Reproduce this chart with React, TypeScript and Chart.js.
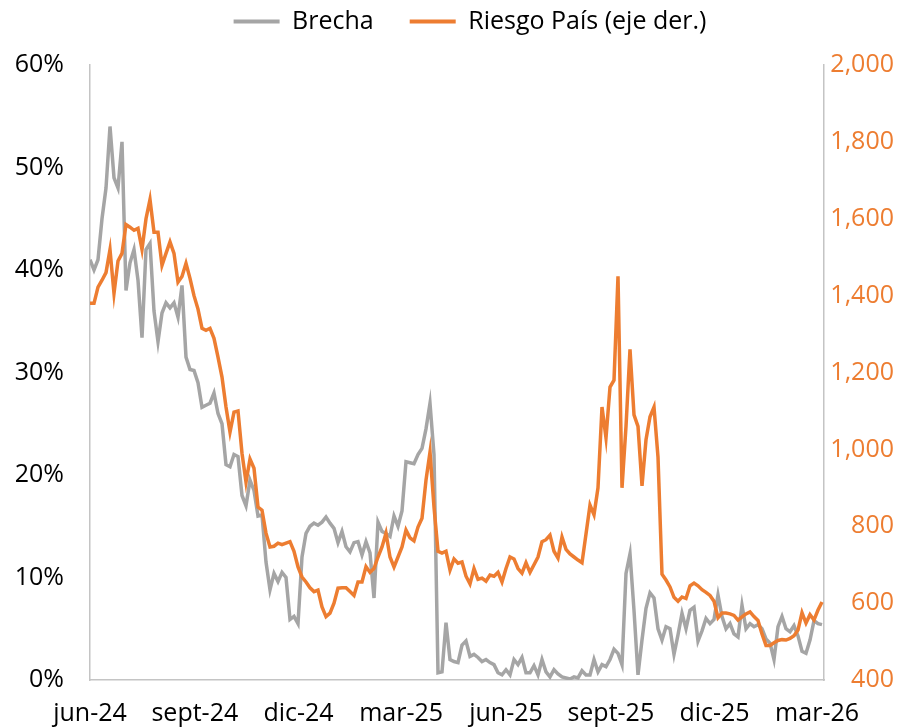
import { useEffect, useRef } from "react";
import { Chart, registerables } from "chart.js";

Chart.register(...registerables);

// ---- Data ----
// One point every DAYS_PER_POINT days starting at START_DATE
const START_DATE = "2024-06-01";
const DAYS_PER_POINT = 3.51;
const X_MAX = 183.5;

const TICK_DATES = [
  "2024-06-01", "2024-09-01", "2024-12-01", "2025-03-01",
  "2025-06-01", "2025-09-01", "2025-12-01", "2026-03-01",
];
const TICK_LABELS = ["jun-24", "sept-24", "dic-24", "mar-25", "jun-25", "sept-25", "dic-25", "mar-26"];

const SERIES_NAMES = ["Brecha", "Riesgo País (eje der.)"];

// Brecha (%), left axis
const BRECHA = [
  41.0, 40.0, 41.0, 45.0, 48.0, 54.0, 49.0, 48.0, 52.5, 38.0,
  40.7, 42.0, 39.0, 33.4, 42.0, 42.6, 36.0, 33.0, 35.8, 36.8,
  36.3, 36.8, 35.4, 38.5, 31.5, 30.3, 30.2, 29.0, 26.6, 26.8,
  27.0, 28.0, 26.0, 25.0, 21.0, 20.8, 22.0, 21.8, 18.0, 17.0,
  19.5, 18.5, 16.0, 16.1, 11.5, 8.8, 10.4, 9.6, 10.5, 10.0,
  5.9, 6.2, 5.5, 12.0, 14.3, 15.0, 15.3, 15.1, 15.4, 15.9,
  15.3, 14.8, 13.4, 14.5, 13.0, 12.5, 13.4, 13.5, 12.2, 13.5,
  12.4, 8.0, 15.4, 14.5, 14.3, 14.0, 16.0, 15.0, 16.5, 21.3,
  21.2, 21.1, 22.0, 22.6, 24.5, 27.0, 22.0, 0.7, 0.8, 5.6,
  2.0, 1.8, 1.7, 3.4, 3.8, 2.3, 2.5, 2.2, 1.8, 2.0,
  1.7, 1.5, 0.7, 0.5, 1.0, 0.5, 2.0, 1.5, 2.2, 0.7,
  0.7, 1.4, 0.5, 2.0, 0.8, 0.3, 1.0, 0.6, 0.3, 0.2,
  0.1, 0.3, 0.2, 0.9, 0.5, 0.5, 2.0, 0.8, 1.5, 1.3,
  2.0, 3.0, 2.6, 1.5, 10.4, 12.3, 6.8, 0.5, 3.9, 7.0,
  8.5, 8.0, 5.0, 3.9, 5.2, 5.0, 2.5, 4.4, 6.5, 5.0,
  6.8, 7.1, 3.8, 4.8, 6.0, 5.5, 5.9, 8.3, 6.2, 5.0,
  5.5, 4.5, 4.2, 7.3, 5.0, 5.5, 5.2, 5.4, 5.0, 4.0,
  3.6, 2.0, 5.2, 6.2, 5.0, 4.7, 5.3, 4.3, 2.8, 2.6,
  3.9, 5.8, 5.5, 5.4,
];

// Riesgo País (bps), right axis
const RIESGO = [
  1380, 1380, 1422, 1440, 1460, 1520, 1406, 1490, 1510, 1585,
  1578, 1570, 1575, 1520, 1600, 1650, 1565, 1565, 1479, 1510,
  1540, 1510, 1435, 1450, 1484, 1445, 1400, 1365, 1315, 1310,
  1315, 1289, 1240, 1188, 1110, 1045, 1097, 1100, 990, 915,
  975, 951, 850, 842, 782, 746, 748, 756, 752, 756,
  760, 735, 694, 668, 655, 640, 630, 634, 590, 565,
  574, 600, 639, 640, 640, 630, 620, 655, 655, 695,
  680, 690, 720, 746, 782, 720, 694, 720, 746, 790,
  770, 762, 798, 821, 920, 993, 850, 735, 730, 735,
  686, 715, 704, 707, 670, 650, 690, 662, 665, 657,
  673, 670, 680, 655, 690, 720, 715, 690, 678, 705,
  680, 700, 720, 760, 765, 777, 735, 717, 772, 740,
  728, 720, 712, 705, 780, 855, 830, 900, 1110, 1030,
  1162, 1180, 1450, 900, 1060, 1260, 1090, 1060, 905, 1025,
  1085, 1110, 980, 675, 660, 642, 615, 605, 616, 612,
  645, 652, 645, 635, 628, 620, 605, 562, 574, 574,
  572, 568, 556, 564, 572, 577, 565, 555, 520, 490,
  490, 497, 503, 505, 504, 508, 515, 530, 575, 548,
  570, 556, 582, 603,
];

const LEFT_TICK_STEP = 10;
const RIGHT_TICK_STEP = 200;

const GRAY = "#A5A5A5";
const ORANGE = "#ED7D31";
const AXIS_COLOR = "#C4C4C4";
const FONT = "'Open Sans', 'Liberation Sans', Arial, sans-serif";
const FONT_SIZE = 25;

export default function App() {
  const ref = useRef<HTMLCanvasElement | null>(null);

  useEffect(() => {
    if (!ref.current) return;
    Chart.defaults.font.family = FONT;
    Chart.defaults.color = "#000";

    const dayOf = (s: string) => (Date.parse(s) - Date.parse(START_DATE)) / 86400000;
    const tickPos = TICK_DATES.map((d) => dayOf(d) / DAYS_PER_POINT);
    const toXY = (arr: number[]) => arr.map((v, i) => ({ x: i, y: v }));

    const chart = new Chart(ref.current, {
      type: "line",
      data: {
        datasets: [
          {
            label: SERIES_NAMES[0],
            data: toXY(BRECHA),
            yAxisID: "y",
            borderColor: GRAY,
            backgroundColor: GRAY,
            borderWidth: 3.5,
            pointRadius: 0,
            tension: 0,
            order: 1,
          },
          {
            label: SERIES_NAMES[1],
            data: toXY(RIESGO),
            yAxisID: "y1",
            borderColor: ORANGE,
            backgroundColor: ORANGE,
            borderWidth: 3.5,
            pointRadius: 0,
            tension: 0,
            order: 0,
          },
        ],
      },
      options: {
        responsive: true,
        maintainAspectRatio: false,
        animation: false,
        layout: { padding: { left: 0, right: 23, top: 0, bottom: 0 } },
        plugins: {
          tooltip: { enabled: false },
          legend: {
            display: true,
            position: "top",
            maxHeight: 65,
            labels: {
              boxWidth: 46,
              boxHeight: 4,
              padding: 36,
              color: "#000",
              font: { size: FONT_SIZE, family: FONT },
              generateLabels: (c: any) =>
                c.data.datasets.map((ds: any, i: number) => ({
                  text: ds.label,
                  fillStyle: ds.borderColor,
                  strokeStyle: ds.borderColor,
                  lineWidth: 0,
                  hidden: false,
                  datasetIndex: i,
                  fontColor: "#000",
                })),
            },
          },
        },
        scales: {
          x: {
            type: "linear",
            min: 0,
            max: X_MAX,
            grid: { display: false, drawTicks: false },
            border: { display: true, color: AXIS_COLOR, width: 1.5 },
            afterBuildTicks: (s: any) => {
              s.ticks = tickPos.map((v) => ({ value: v }));
            },
            afterFit: (s: any) => {
              s.height = 48;
            },
            ticks: {
              autoSkip: false,
              maxRotation: 0,
              padding: 19,
              color: "#000",
              font: { size: FONT_SIZE, family: FONT },
              callback: (_v: any, i: number) => TICK_LABELS[i],
            },
          },
          y: {
            position: "left",
            min: 0,
            max: 60,
            grid: { display: false, drawTicks: false },
            border: { display: true, color: AXIS_COLOR, width: 1.5 },
            afterFit: (s: any) => {
              s.width = 90;
            },
            ticks: {
              stepSize: LEFT_TICK_STEP,
              padding: 26,
              color: "#000",
              font: { size: FONT_SIZE, family: FONT },
              callback: (v: any) => `${v}%`,
            },
          },
          y1: {
            position: "right",
            min: 400,
            max: 2000,
            grid: { display: false, drawTicks: false },
            border: { display: true, color: AXIS_COLOR, width: 1.5 },
            afterFit: (s: any) => {
              s.width = 70;
            },
            ticks: {
              stepSize: RIGHT_TICK_STEP,
              crossAlign: "far",
              color: ORANGE,
              font: { size: FONT_SIZE, family: FONT },
              callback: (v: any) => Number(v).toLocaleString("en-US"),
            },
          },
        },
      } as any,
      plugins: [
        {
          id: "legendShift",
          afterLayout(c: any) {
            const l = c.legend;
            if (!l) return;
            l.top -= 27;
            l.bottom -= 27;
            l.left += 23;
            l.right += 23;
          },
        },
      ],
    });

    return () => chart.destroy();
  }, []);

  return (
    <div style={{ position: "fixed", left: 0, top: 0, width: 917, height: 728, background: "#fff" }}>
      <canvas ref={ref} />
    </div>
  );
}
